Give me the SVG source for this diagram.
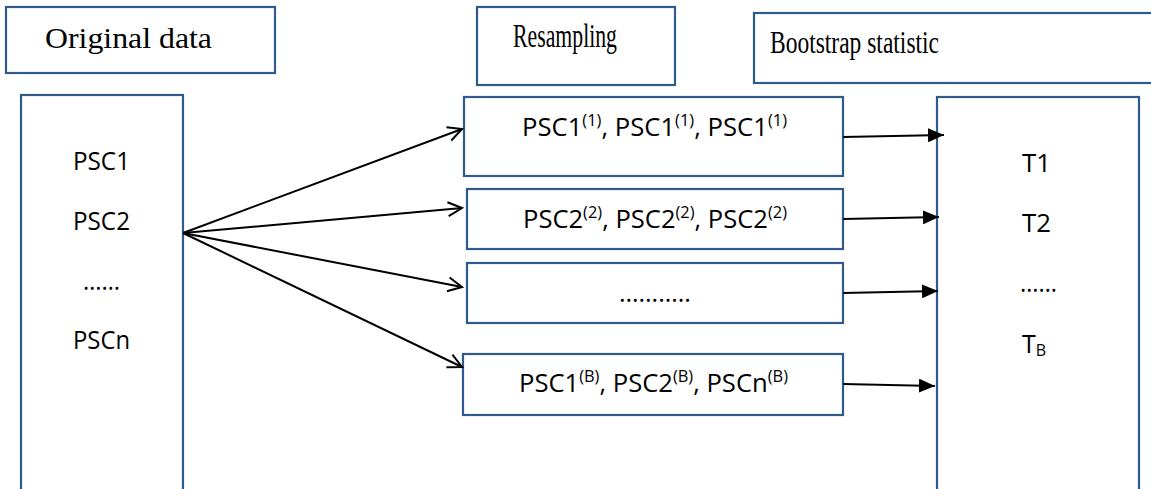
<svg xmlns="http://www.w3.org/2000/svg" width="1151" height="489" viewBox="0 0 1151 489">
  <style>
    .box { fill: #ffffff; stroke: #2f5a8a; stroke-width: 2.2; }
    .head { font-family: "Liberation Serif", "Times New Roman", serif; fill: #000; }
    .lbl { font-family: "Open Sans", "Liberation Sans", sans-serif; font-size: 25px; fill: #000; }
    .sup { font-size: 16px; }
    .link { stroke: #000; stroke-width: 2; fill: none; }
  </style>
  <defs>
    <marker id="open-arrow" markerUnits="userSpaceOnUse" markerWidth="17" markerHeight="18" viewBox="0 0 17 18" refX="15" refY="9" orient="auto">
      <path d="M1,2 L15,9 L1,16" fill="none" stroke="#000" stroke-width="2"/>
    </marker>
    <marker id="solid-arrow" markerUnits="userSpaceOnUse" markerWidth="16" markerHeight="14" viewBox="0 0 16 14" refX="16" refY="7" orient="auto">
      <path d="M0,0 L16,7 L0,14 Z" fill="#000"/>
    </marker>
  </defs>

  <rect width="1151" height="489" fill="#ffffff"/>

  <!-- column headings -->
  <g id="heading-original">
    <rect class="box" x="6" y="7" width="269" height="66"/>
    <text class="head" x="45" y="48" font-size="30" textLength="167" lengthAdjust="spacingAndGlyphs">Original data</text>
  </g>
  <g id="heading-resampling">
    <rect class="box" x="477" y="7" width="198" height="78"/>
    <text class="head" x="513" y="47" font-size="33" textLength="104" lengthAdjust="spacingAndGlyphs">Resampling</text>
  </g>
  <g id="heading-statistic">
    <rect class="box" x="754" y="13" width="410" height="70"/>
    <text class="head" x="770" y="53" font-size="32" textLength="169" lengthAdjust="spacingAndGlyphs">Bootstrap statistic</text>
  </g>

  <!-- original sample -->
  <g id="original-data">
    <rect class="box" x="21" y="95" width="162" height="410"/>
    <text class="lbl" x="73" y="170" textLength="57" lengthAdjust="spacingAndGlyphs">PSC1</text>
    <text class="lbl" x="73" y="230" textLength="57" lengthAdjust="spacingAndGlyphs">PSC2</text>
    <text class="lbl" x="83" y="290" textLength="37" lengthAdjust="spacingAndGlyphs">……</text>
    <text class="lbl" x="73" y="349" textLength="57" lengthAdjust="spacingAndGlyphs">PSCn</text>
  </g>

  <!-- bootstrap samples -->
  <g id="sample-1">
    <rect class="box" x="464" y="97" width="379" height="79"/>
    <text class="lbl" x="522" y="136" textLength="265" lengthAdjust="spacingAndGlyphs">PSC1<tspan class="sup" dy="-10">(1)</tspan><tspan dy="10">, PSC1</tspan><tspan class="sup" dy="-10">(1)</tspan><tspan dy="10">, PSC1</tspan><tspan class="sup" dy="-10">(1)</tspan></text>
  </g>
  <g id="sample-2">
    <rect class="box" x="467" y="189" width="376" height="60"/>
    <text class="lbl" x="523" y="228" textLength="264" lengthAdjust="spacingAndGlyphs">PSC2<tspan class="sup" dy="-10">(2)</tspan><tspan dy="10">, PSC2</tspan><tspan class="sup" dy="-10">(2)</tspan><tspan dy="10">, PSC2</tspan><tspan class="sup" dy="-10">(2)</tspan></text>
  </g>
  <g id="sample-dots">
    <rect class="box" x="467" y="263" width="376" height="60"/>
    <text class="lbl" x="619" y="302" textLength="72" lengthAdjust="spacingAndGlyphs">………..</text>
  </g>
  <g id="sample-b">
    <rect class="box" x="463" y="354" width="380" height="61"/>
    <text class="lbl" x="519" y="392" textLength="269" lengthAdjust="spacingAndGlyphs">PSC1<tspan class="sup" dy="-10">(B)</tspan><tspan dy="10">, PSC2</tspan><tspan class="sup" dy="-10">(B)</tspan><tspan dy="10">, PSCn</tspan><tspan class="sup" dy="-10">(B)</tspan></text>
  </g>

  <!-- statistics -->
  <g id="statistics">
    <rect class="box" x="937" y="97" width="202" height="410"/>
    <text class="lbl" x="1022" y="172" textLength="29" lengthAdjust="spacingAndGlyphs">T1</text>
    <text class="lbl" x="1022" y="232" textLength="29" lengthAdjust="spacingAndGlyphs">T2</text>
    <text class="lbl" x="1020" y="292" textLength="37" lengthAdjust="spacingAndGlyphs">……</text>
    <text class="lbl" x="1022" y="353">T<tspan class="sup" dy="3">B</tspan></text>
  </g>

  <!-- connectors -->
  <g id="connectors">
    <line class="link" x1="183" y1="233" x2="462" y2="129" marker-end="url(#open-arrow)"/>
    <line class="link" x1="183" y1="233" x2="462" y2="208" marker-end="url(#open-arrow)"/>
    <line class="link" x1="183" y1="233" x2="462" y2="287" marker-end="url(#open-arrow)"/>
    <line class="link" x1="183" y1="233" x2="462" y2="367" marker-end="url(#open-arrow)"/>
    <line class="link" x1="843" y1="137" x2="944" y2="135" marker-end="url(#solid-arrow)"/>
    <line class="link" x1="843" y1="219" x2="939" y2="217" marker-end="url(#solid-arrow)"/>
    <line class="link" x1="843" y1="293" x2="938" y2="291" marker-end="url(#solid-arrow)"/>
    <line class="link" x1="843" y1="384" x2="935" y2="386" marker-end="url(#solid-arrow)"/>
  </g>
</svg>
